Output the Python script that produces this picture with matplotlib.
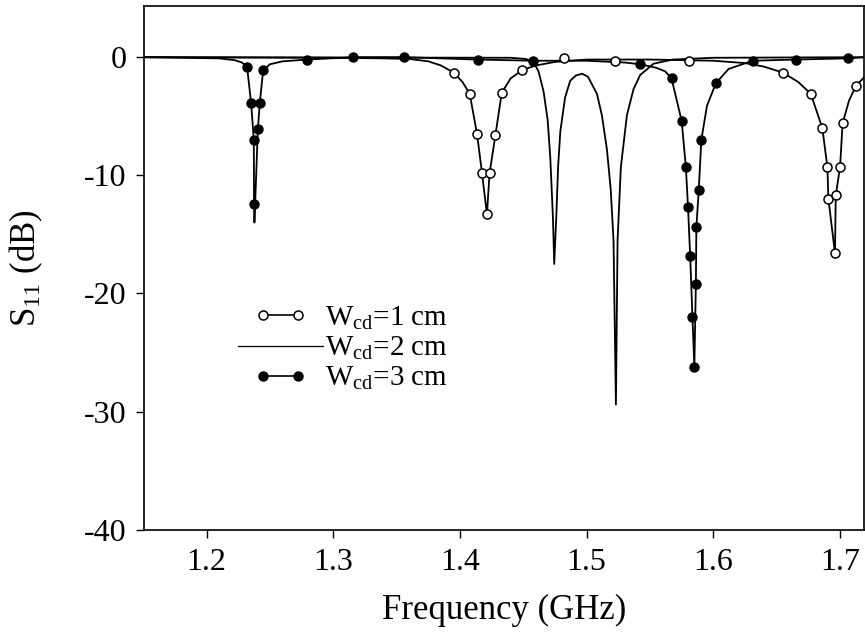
import matplotlib
matplotlib.use('Agg')
import matplotlib.pyplot as plt
from matplotlib.legend_handler import HandlerLine2D

# ---- data ----
# Wcd = 1 cm (open circles)
f1_line = [1.15, 1.30, 1.34, 1.36, 1.375, 1.385, 1.395, 1.402, 1.4077, 1.4135, 1.4174,
           1.4213, 1.4234, 1.428, 1.433, 1.440, 1.449, 1.46, 1.475, 1.50, 1.55, 1.60,
           1.625, 1.64, 1.6548, 1.667, 1.6769, 1.686, 1.690, 1.6908, 1.696, 1.6966,
           1.700, 1.702, 1.707, 1.7126, 1.72]
s1_line = [0, -0.05, -0.1, -0.15, -0.35, -0.7, -1.3, -2.1, -3.1, -6.5, -9.8,
           -13.3, -9.8, -6.6, -3.0, -1.8, -1.1, -0.7, -0.4, -0.2, -0.2, -0.3,
           -0.5, -0.8, -1.3, -2.1, -3.1, -6.0, -9.3, -12.0, -16.6, -11.7,
           -9.3, -5.6, -3.7, -2.4, -1.6]
f1_pts = [1.395, 1.4077, 1.4135, 1.4174, 1.4213, 1.4234, 1.428, 1.433, 1.449, 1.482,
          1.5226, 1.581, 1.6548, 1.6769, 1.686, 1.690, 1.6908, 1.696, 1.6966, 1.700,
          1.702, 1.7126]
s1_pts = [-1.3, -3.1, -6.5, -9.8, -13.3, -9.8, -6.6, -3.0, -1.1, -0.1,
          -0.3, -0.3, -1.3, -3.1, -6.0, -9.3, -12.0, -16.6, -11.7, -9.3,
          -5.6, -2.4]

# Wcd = 2 cm (plain line)
f2_line = [1.15, 1.44, 1.452, 1.458, 1.462, 1.466, 1.4692, 1.4713, 1.4734, 1.4744,
           1.476, 1.4775, 1.4792, 1.483, 1.487, 1.4915, 1.4963, 1.501, 1.5081, 1.512,
           1.516, 1.519, 1.5212, 1.5231, 1.5244, 1.527, 1.5318, 1.537, 1.5423, 1.5528,
           1.568, 1.60, 1.72]
s2_line = [0, -0.05, -0.15, -0.4, -1.2, -2.9, -5.3, -8.5, -13.6, -17.5,
           -13.6, -9.2, -6.3, -3.4, -2.0, -1.55, -1.4, -1.65, -3.1, -4.9,
           -7.8, -11.2, -15.5, -29.4, -15.5, -9.3, -4.9, -2.7, -1.5, -0.55,
           -0.2, -0.05, 0]

# Wcd = 3 cm (filled circles)
f3_line = [1.15, 1.21, 1.222, 1.228, 1.232, 1.2352, 1.2373, 1.2375, 1.2378, 1.2405,
           1.242, 1.2447, 1.25, 1.26, 1.28, 1.3157, 1.3556, 1.414, 1.458, 1.50,
           1.53, 1.5423, 1.555, 1.562, 1.567, 1.575, 1.5783, 1.580, 1.5817, 1.5835,
           1.585, 1.5862, 1.5866, 1.5885, 1.5905, 1.595, 1.602, 1.612, 1.631, 1.6653,
           1.706, 1.72]
s3_line = [0, -0.1, -0.25, -0.45, -0.85, -3.9, -7.0, -12.4, -14.0, -6.1,
           -3.9, -1.1, -0.6, -0.35, -0.2, 0, 0, -0.2, -0.3, -0.3,
           -0.45, -0.6, -0.9, -1.2, -1.8, -5.4, -9.3, -12.7, -16.8, -22.0,
           -26.2, -19.2, -14.4, -11.2, -7.0, -4.1, -2.2, -1.0, -0.3, -0.2,
           -0.1, 0]
f3_pts = [1.232, 1.2352, 1.2373, 1.2375, 1.2405, 1.242, 1.2447, 1.2794, 1.3157, 1.3556,
          1.414, 1.458, 1.5423, 1.567, 1.575, 1.5783, 1.580, 1.5817, 1.5835, 1.585,
          1.5862, 1.5866, 1.5885, 1.5905, 1.602, 1.631, 1.6653, 1.706]
s3_pts = [-0.85, -3.9, -7.0, -12.4, -6.1, -3.9, -1.1, -0.2, 0, 0,
          -0.2, -0.3, -0.6, -1.8, -5.4, -9.3, -12.7, -16.8, -22.0, -26.2,
          -19.2, -14.4, -11.2, -7.0, -2.2, -0.3, -0.2, -0.1]

labels = ['W$_{\\mathrm{cd}}$=1 cm', 'W$_{\\mathrm{cd}}$=2 cm', 'W$_{\\mathrm{cd}}$=3 cm']
xticks = [1.2, 1.3, 1.4, 1.5, 1.6, 1.7]
yticks = [0, -10, -20, -30, -40]

plt.rcParams['font.family'] = ['Liberation Serif', 'DejaVu Serif']
plt.rcParams['mathtext.fontset'] = 'custom'
plt.rcParams['mathtext.rm'] = 'Liberation Serif'
plt.rcParams['mathtext.it'] = 'Liberation Serif:italic'

fig = plt.figure(figsize=(8.65, 6.39), dpi=100)
ax = fig.add_axes([0.167, 0.171, 0.832, 0.819])

k = 'black'
ax.plot(f2_line, s2_line, color=k, lw=1.3)
ax.plot(f1_line, s1_line, color=k, lw=1.3)
ax.plot(f3_line, s3_line, color=k, lw=1.3)
ax.plot(f1_pts, s1_pts, 'o', ms=6.5, mfc='white', mec=k, mew=1.1)
ax.plot(f3_pts, s3_pts, 'o', ms=6.5, mfc=k, mec=k)

# legend handles
h1, = ax.plot([], [], '-o', color=k, lw=1.2, ms=6.5, mfc='white', mew=1.1)
h2, = ax.plot([], [], '-', color=k, lw=0.9)
h3, = ax.plot([], [], '-o', color=k, lw=1.2, ms=6.5, mfc=k)
ax.legend([h1, h2, h3], labels, loc='upper left', bbox_to_anchor=(0.13, 0.43),
          frameon=False, fontsize=21, handlelength=2.9, handletextpad=0.08,
          labelspacing=0.1, borderpad=0, borderaxespad=0,
          handler_map={h1: HandlerLine2D(numpoints=2, marker_pad=0.86),
                       h3: HandlerLine2D(numpoints=2, marker_pad=0.86)})

ax.set_xlim(1.151, 1.719)
ax.set_ylim(-40, 4.3)
ax.set_xticks(xticks)
ax.set_yticks(yticks)
ax.set_xticklabels(['%.1f' % v for v in xticks])
ax.set_yticklabels(['%d' % v for v in yticks])
ax.tick_params(direction='out', length=6, width=1, labelsize=23, pad=7)
for sp in ax.spines.values():
    sp.set_linewidth(1.2)

ax.set_xlabel('Frequency (GHz)', fontsize=25, labelpad=12)
ax.set_ylabel('S$_{11}$ (dB)', fontsize=25)
ax.yaxis.set_label_coords(-0.138, 0.5)

fig.savefig('out.png', dpi=100)
